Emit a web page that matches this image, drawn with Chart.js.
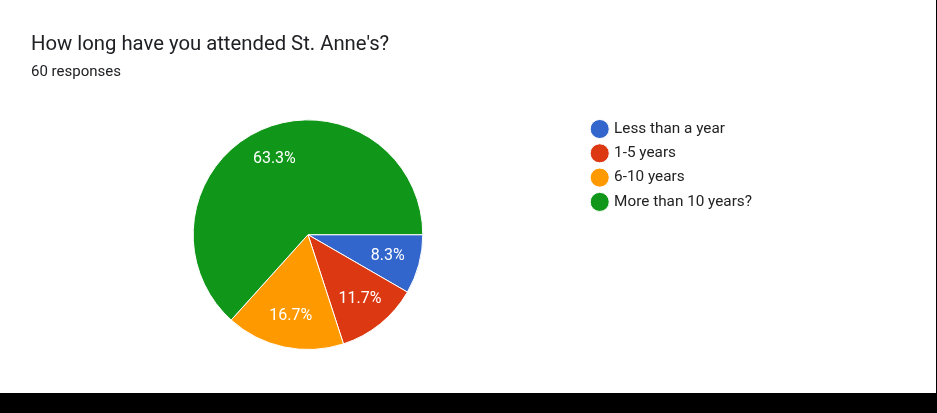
<!DOCTYPE html>
<html>
<head>
<meta charset="utf-8">
<script src="https://cdn.jsdelivr.net/npm/chart.js@4/dist/chart.umd.min.js"></script>
<style>
  html, body { margin: 0; padding: 0; background: #000; }
  #wrap { position: absolute; left: 0; top: 0; width: 936px; height: 393px; background: #fff; }
</style>
</head>
<body>
<div id="wrap"><canvas id="pieChart" width="936" height="393"></canvas></div>
<script>
const titleText = "How long have you attended St. Anne's?";
const subtitleText = '60 responses';
const categories = ['Less than a year', '1-5 years', '6-10 years', 'More than 10 years?'];
const responses = [5, 7, 10, 38];
const sliceColors = ['#3366cc', '#dc3912', '#ff9900', '#109618'];

// percent labels inside the slices
const sliceLabels = {
    id: 'sliceLabels',
    afterDatasetsDraw(chart) {
        const ctx = chart.ctx;
        const data = chart.data.datasets[0].data;
        const total = data.reduce((a, b) => a + b, 0);
        chart.getDatasetMeta(0).data.forEach((arc, i) => {
            const p = arc.getProps(['x', 'y', 'startAngle', 'endAngle', 'outerRadius']);
            const mid = (p.startAngle + p.endAngle) / 2;
            const r = p.outerRadius * 0.72;
            ctx.save();
            ctx.fillStyle = '#fff';
            ctx.font = '16px Roboto';
            ctx.textAlign = 'center';
            ctx.textBaseline = 'middle';
            ctx.fillText((data[i] / total * 100).toFixed(1) + '%', p.x + r * Math.cos(mid), p.y + r * Math.sin(mid));
            ctx.restore();
        });
    }
};

// lift the legend a little so it starts level with the top of the pie
const legendNudge = {
    id: 'legendNudge',
    afterLayout(chart) { chart.legend.top -= 7; chart.legend.left -= 1; }
};

const ctx = document.getElementById('pieChart').getContext('2d');
const chart = new Chart(ctx, {
    type: 'pie',
    data: {
        labels: categories,
        datasets: [{ data: responses, backgroundColor: sliceColors, borderColor: '#fff', borderWidth: 1 }]
    },
    options: {
        responsive: false,
        animation: false,
        rotation: 90,
        layout: { padding: { left: 31, right: 173, top: 0, bottom: 43 } },
        plugins: {
            title: {
                display: true, text: titleText, align: 'start', color: '#202124',
                font: { family: 'Roboto', size: 20.3, weight: 'normal' },
                padding: { top: 33, bottom: 6 }
            },
            subtitle: {
                display: true, text: subtitleText, align: 'start', color: '#202124',
                font: { family: 'Roboto', size: 15 },
                padding: { top: 0, bottom: 38 }
            },
            legend: {
                position: 'right', align: 'start', fullSize: false,
                labels: {
                    usePointStyle: true, pointStyle: 'circle', boxWidth: 13.5, boxHeight: 13.5,
                    color: '#222', padding: 9,
                    font: { family: 'Roboto', size: 15.3 }
                }
            },
            tooltip: { enabled: false }
        }
    },
    plugins: [sliceLabels, legendNudge]
});
</script>
</body>
</html>
